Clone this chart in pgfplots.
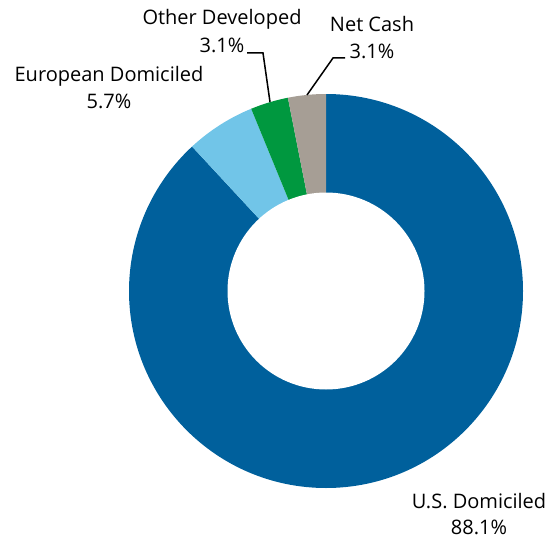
\documentclass[border=0pt]{standalone}
\usepackage{fontspec}
\setmainfont{Open Sans}
\usepackage{pgfplots}
\usepackage{pgfplotstable}
\pgfplotsset{compat=1.18}
\definecolor{usblue}{HTML}{00609C}
\definecolor{eublue}{HTML}{71C5E8}
\definecolor{odgreen}{HTML}{00983F}
\definecolor{cashgray}{HTML}{A69E95}
\tikzset{lbl/.style={anchor=base, inner sep=0pt, font=\fontsize{20bp}{24bp}\selectfont}}

% shares in percent, clockwise from 12 o'clock
\pgfplotstableread{
value
88.1
5.7
3.1
3.1
}\shares
\pgfplotstablegetelem{0}{value}\of\shares \let\vA\pgfplotsretval
\pgfplotstablegetelem{1}{value}\of\shares \let\vB\pgfplotsretval
\pgfplotstablegetelem{2}{value}\of\shares \let\vC\pgfplotsretval
\pgfplotstablegetelem{3}{value}\of\shares \let\vD\pgfplotsretval
\pgfmathsetmacro\aA{90-3.6*\vA}
\pgfmathsetmacro\aB{\aA-3.6*\vB}
\pgfmathsetmacro\aC{\aB-3.6*\vC}
\pgfmathsetmacro\aD{\aC-3.6*\vD}

\begin{document}
\begin{tikzpicture}
\begin{axis}[
  width=554bp, height=539bp, scale only axis,
  xmin=0, xmax=554, ymin=0, ymax=539, y dir=reverse,
  hide axis, clip=false,
]
\path (axis cs:0,0) rectangle (axis cs:554,539);
\fill[usblue]   (axis cs:326,291) -- ++(90:197bp)  arc[start angle=90,  end angle=\aA, radius=197bp] -- cycle;
\fill[eublue]   (axis cs:326,291) -- ++(\aA:197bp) arc[start angle=\aA, end angle=\aB, radius=197bp] -- cycle;
\fill[odgreen]  (axis cs:326,291) -- ++(\aB:197bp) arc[start angle=\aB, end angle=\aC, radius=197bp] -- cycle;
\fill[cashgray] (axis cs:326,291) -- ++(\aC:197bp) arc[start angle=\aC, end angle=\aD, radius=197bp] -- cycle;
\fill[white] (axis cs:326,291) circle[radius=98.5bp];

\draw[line width=1.5bp] (axis cs:247,53) -- (axis cs:263,53) -- (axis cs:270,102);
\draw[line width=1.5bp] (axis cs:345,58) -- (axis cs:333,58) -- (axis cs:307,95);

\node[lbl] at (axis cs:222,25) {Other Developed};
\node[lbl] at (axis cs:222,53) {3.1\%};
\node[lbl] at (axis cs:372,32) {Net Cash};
\node[lbl] at (axis cs:372,59) {3.1\%};
\node[lbl] at (axis cs:109,82) {European Domiciled};
\node[lbl] at (axis cs:109,108) {5.7\%};
\node[lbl] at (axis cs:479,508) {U.S. Domiciled};
\node[lbl] at (axis cs:479,534) {88.1\%};
\end{axis}
\end{tikzpicture}
\end{document}
